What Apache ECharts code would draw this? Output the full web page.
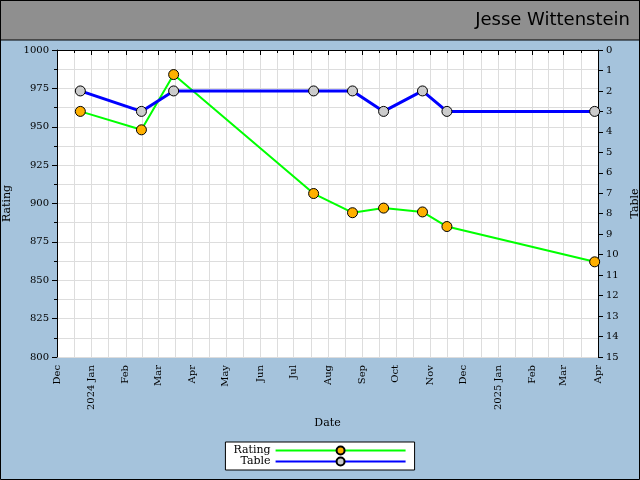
<!DOCTYPE html>
<html><head><meta charset="utf-8">
<script src="https://cdn.jsdelivr.net/npm/echarts@6/dist/echarts.min.js"></script>
<style>html,body{margin:0;padding:0;background:#a5c3dc}#c{width:640px;height:480px}</style>
</head><body><div id="c"></div>
<script>
var dates = ['2023-12-22','2024-02-15','2024-03-15','2024-07-19','2024-08-23','2024-09-20','2024-10-25','2024-11-16','2025-03-29'];
var rating = [960, 948, 984, 906.5, 894, 897, 894.5, 885, 862];
var table = [2, 3, 2, 2, 2, 3, 2, 3, 3];
var months = ['Jan','Feb','Mar','Apr','May','Jun','Jul','Aug','Sep','Oct','Nov','Dec'];
var chart = echarts.init(document.getElementById('c'));
var font = 'DejaVu Serif';
chart.setOption({
  backgroundColor: '#a5c3dc',
  animation: false,
  textStyle: {fontFamily: font},
  graphic: [
    {type:'rect', shape:{x:0,y:0,width:640,height:40}, style:{fill:'#8f8f8f', stroke:'#000', lineWidth:1}},
    {type:'rect', shape:{x:0.5,y:0.5,width:639,height:479}, style:{fill:'none', stroke:'#000', lineWidth:1}},
    {type:'text', right:10, top:11, style:{text:'Jesse Wittenstein', font:'18px "DejaVu Sans"', fill:'#000'}}
  ],
  grid: {left:57, right:42, top:50, bottom:123, backgroundColor:'#fff', show:true, borderWidth:0, containLabel:false, outerBoundsMode:'none'},
  legend: {
    bottom: 10, left: 'center', orient: 'vertical', backgroundColor:'#fff', borderColor:'#000', borderWidth:1,
    padding:[3,8], itemGap:0, itemWidth:130, itemHeight:10,
    textStyle:{fontFamily:font, fontSize:11, color:'#000'}, align:'right',
    data:['Rating','Table']
  },
  xAxis: {
    type:'time', min:'2023-12-01', max:'2025-04-01', splitNumber:17,
    name:'Date', nameLocation:'middle', nameGap:60, nameTextStyle:{fontSize:11, color:'#000'},
    axisLine:{lineStyle:{color:'#000'}}, axisTick:{lineStyle:{color:'#000'}},
    axisLabel:{rotate:90, fontSize:10, color:'#000', fontFamily:font, hideOverlap:false,
      formatter:function(v){var d=new Date(v);var m=d.getMonth();return m===0?(d.getFullYear()+' Jan'):months[m];}},
    splitLine:{show:true, lineStyle:{color:'#ddd'}},
    minorTick:{show:true, splitNumber:2}, minorSplitLine:{show:true, lineStyle:{color:'#ddd'}}
  },
  yAxis: [
    {type:'value', min:800, max:1000, interval:25, name:'Rating', nameLocation:'middle', nameGap:38,
     nameTextStyle:{fontSize:11,color:'#000'},
     axisLine:{show:true,lineStyle:{color:'#000'}}, axisTick:{show:true,lineStyle:{color:'#000'}},
     axisLabel:{fontSize:10,color:'#000',fontFamily:font, formatter:function(v){return String(v);}},
     splitLine:{lineStyle:{color:'#ddd'}}, minorTick:{show:true,splitNumber:2}, minorSplitLine:{show:true,lineStyle:{color:'#ddd'}}},
    {type:'value', min:0, max:15, interval:1, inverse:true, name:'Table', nameLocation:'middle', nameGap:26,
     nameTextStyle:{fontSize:11,color:'#000'},
     axisLine:{show:true,lineStyle:{color:'#000'}}, axisTick:{show:true,lineStyle:{color:'#000'}},
     axisLabel:{fontSize:10,color:'#000',fontFamily:font}, splitLine:{show:false}}
  ],
  series: [
    {name:'Rating', type:'line', yAxisIndex:0, data:dates.map(function(d,i){return [d,rating[i]];}),
     lineStyle:{color:'#00ff00', width:2}, itemStyle:{color:'#ffb000', borderColor:'#000', borderWidth:1},
     symbol:'circle', symbolSize:10, color:'#00ff00'},
    {name:'Table', type:'line', yAxisIndex:1, data:dates.map(function(d,i){return [d,table[i]];}),
     lineStyle:{color:'#0000ff', width:3}, itemStyle:{color:'#cccccc', borderColor:'#000', borderWidth:1},
     symbol:'circle', symbolSize:10, z:3}
  ]
});
</script></body></html>
